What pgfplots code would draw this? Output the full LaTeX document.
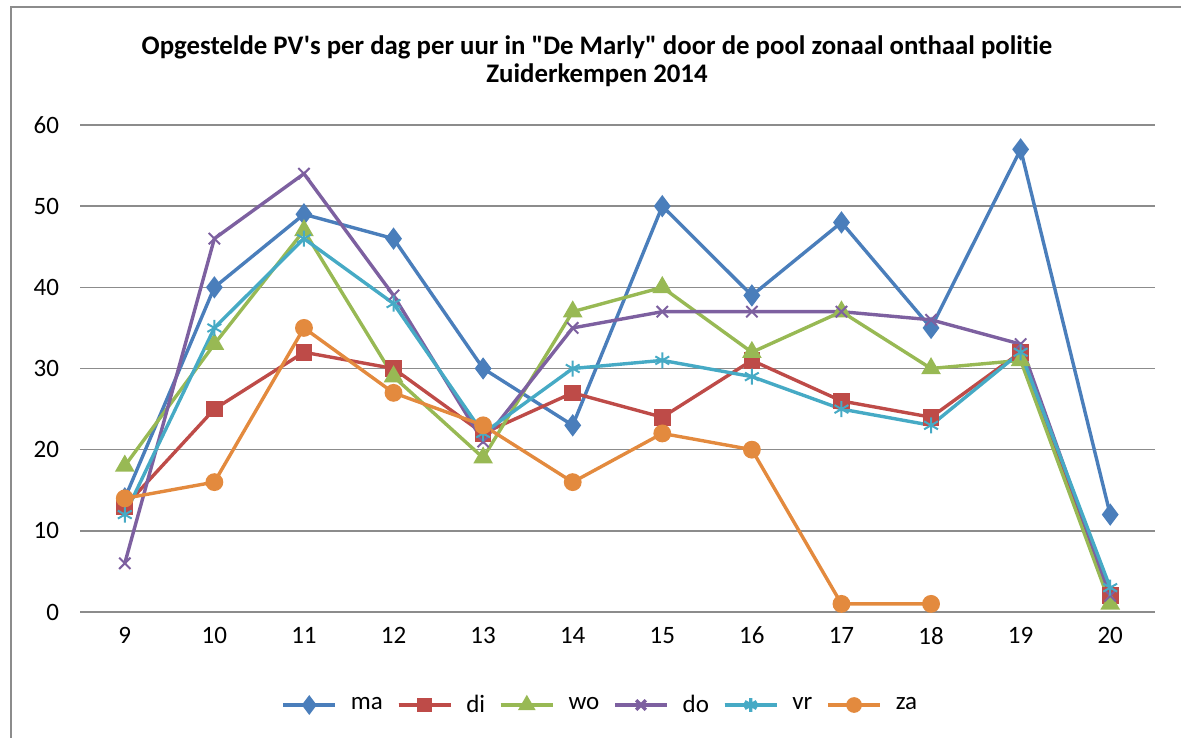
\documentclass[border=0pt]{standalone}
\usepackage{fontspec}
\setmainfont{Carlito}[Ligatures={TeXOff,NoCommon}]
\usepackage{pgfplots}
\pgfplotsset{compat=1.18}
\definecolor{cma}{HTML}{4A7EBB}
\definecolor{cdi}{HTML}{BE4B48}
\definecolor{cwo}{HTML}{98B954}
\definecolor{cdo}{HTML}{7D60A0}
\definecolor{cvr}{HTML}{46AAC5}
\definecolor{cza}{HTML}{E38A3E}
\definecolor{gridgray}{HTML}{8C8C8C}
\begin{document}
\begin{tikzpicture}
\useasboundingbox (0,0) rectangle (590.5bp,369bp);
\draw[gridgray, line width=1.2bp] (5.5bp,0) -- (5.5bp,365.5bp) -- (590.5bp,365.5bp);
\node[align=center, font=\fontsize{13.4bp}{14.2bp}\selectfont\bfseries] at (298.5bp,338.5bp)
 {Opgestelde PV's per dag per uur in "De Marly" door de pool zonaal onthaal politie\\Zuiderkempen 2014};
\begin{axis}[
  at={(40bp,63bp)}, anchor=south west,
  scale only axis, width=537.5bp, height=243.5bp,
  xmin=8.5, xmax=20.5, ymin=0, ymax=60,
  xtick={9,...,20}, ytick={0,10,...,60},
  axis line style={draw=none},
  major tick length=0pt,
  ymajorgrids=true, xmajorgrids=false,
  major grid style={draw=gridgray, line width=0.8bp},
  ticklabel style={font=\fontsize{12.5bp}{15bp}\selectfont},
  /pgf/number format/assume math mode=true,
  yticklabel style={xshift=-7bp},
  xticklabel style={yshift=-4bp},
  every axis plot/.append style={line width=1.7bp},
  legend columns=6,
  legend style={draw=none, at={(0.485,-0.191)}, anchor=center,
    font=\fontsize{12.5bp}{15bp}\selectfont, column sep=5bp},
  legend image code/.code={
    \draw[#1] (0bp,0bp) -- (13bp,0bp) -- (26bp,0bp);
    \draw[#1, mark repeat=2, mark phase=2, mark options={scale=0.85}] plot coordinates {(0bp,0bp) (13bp,0bp) (26bp,0bp)};
  },
]
\addplot[cma, mark=diamond*, mark size=4.2bp] coordinates {(9,14)(10,40)(11,49)(12,46)(13,30)(14,23)(15,50)(16,39)(17,48)(18,35)(19,57)(20,12)};
\addlegendentry{ma}
\addplot[cdi, mark=square*, mark size=3.3bp] coordinates {(9,13)(10,25)(11,32)(12,30)(13,22)(14,27)(15,24)(16,31)(17,26)(18,24)(19,32)(20,2)};
\addlegendentry{di}
\addplot[cwo, mark=triangle*, mark size=4bp] coordinates {(9,18)(10,33)(11,47)(12,29)(13,19)(14,37)(15,40)(16,32)(17,37)(18,30)(19,31)(20,1)};
\addlegendentry{wo}
\addplot[cdo, mark=x, mark size=4bp, mark options={line width=1bp}] coordinates {(9,6)(10,46)(11,54)(12,39)(13,21)(14,35)(15,37)(16,37)(17,37)(18,36)(19,33)(20,2)};
\addlegendentry{do}
\addplot[cvr, mark=asterisk, mark size=4bp, mark options={line width=1bp}] coordinates {(9,12)(10,35)(11,46)(12,38)(13,22)(14,30)(15,31)(16,29)(17,25)(18,23)(19,32)(20,3)};
\addlegendentry{vr}
\addplot[cza, mark=*, mark size=3.6bp] coordinates {(9,14)(10,16)(11,35)(12,27)(13,23)(14,16)(15,22)(16,20)(17,1)(18,1)};
\addlegendentry{za}
\end{axis}
\end{tikzpicture}
\end{document}
